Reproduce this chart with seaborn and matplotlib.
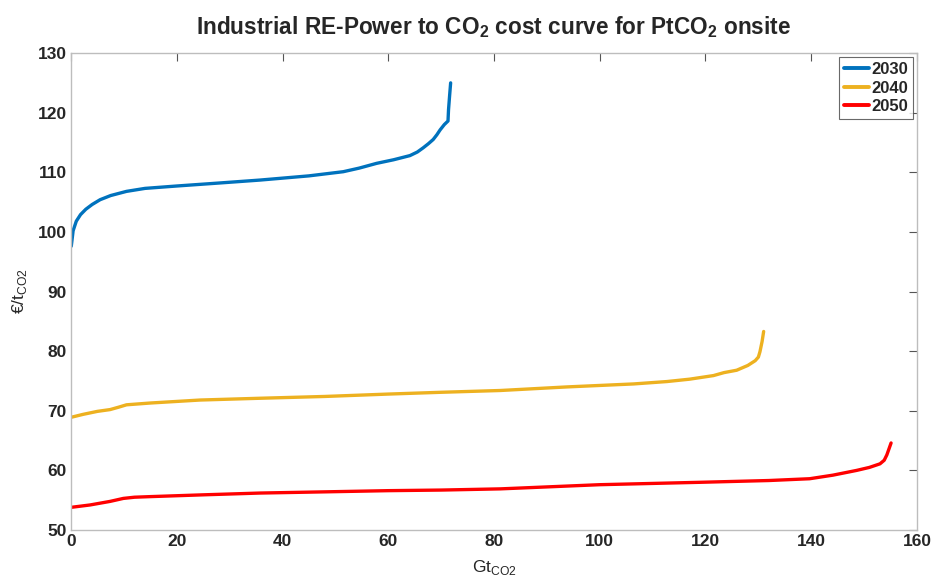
import pandas as pd
import matplotlib
matplotlib.use('Agg')
import matplotlib.pyplot as plt
import seaborn as sns

# Cost curve points (Gt CO2 vs EUR/t CO2)
x_2030 = [0.05, 0.4, 1.0, 1.8, 2.8, 4.0, 5.5, 7.5, 10.5, 14.0, 20.0, 28.0, 35.8, 45.0, 51.5,
          54.5, 57.8, 61.0, 64.1, 65.5, 66.6, 67.6, 68.5, 69.2, 69.8, 70.6, 71.3, 71.4, 71.6, 71.8]
y_2030 = [97.6, 100.2, 101.8, 102.9, 103.8, 104.6, 105.4, 106.1, 106.8, 107.3, 107.7, 108.2, 108.7, 109.4, 110.1,
          110.7, 111.5, 112.1, 112.8, 113.4, 114.1, 114.8, 115.5, 116.3, 117.1, 118.0, 118.6, 120.5, 122.8, 125.0]

x_2040 = [0.0, 2.3, 5.0, 7.4, 9.0, 10.5, 15.0, 24.4, 35.8, 48.0, 60.0, 70.0, 81.2, 93.8, 106.4,
          112.7, 117.0, 121.5, 123.5, 125.9, 128.0, 129.4, 130.0, 130.3, 130.7, 131.0]
y_2040 = [68.9, 69.4, 69.9, 70.2, 70.6, 71.0, 71.3, 71.8, 72.1, 72.4, 72.8, 73.1, 73.4, 74.0, 74.5,
          74.9, 75.3, 75.9, 76.4, 76.8, 77.6, 78.4, 79.0, 79.9, 81.6, 83.3]

x_2050 = [0.0, 3.6, 5.5, 7.4, 9.9, 12.0, 15.0, 25.0, 35.8, 48.0, 60.0, 70.0, 81.2, 100.0, 118.9,
          132.0, 139.7, 144.1, 148.6, 151.0, 153.0, 153.8, 154.3, 154.7, 155.1]
y_2050 = [53.8, 54.2, 54.5, 54.8, 55.3, 55.5, 55.6, 55.9, 56.2, 56.4, 56.6, 56.7, 56.9, 57.6, 58.0,
          58.3, 58.6, 59.2, 60.0, 60.5, 61.1, 61.7, 62.6, 63.6, 64.6]

years = ['2030', '2040', '2050']
colors = ['#0072BD', '#EDB120', '#FF0000']

frames = []
for yr, xs, ys in zip(years, [x_2030, x_2040, x_2050], [y_2030, y_2040, y_2050]):
    frames.append(pd.DataFrame({'Gt': xs, 'cost': ys, 'year': yr}))
df = pd.concat(frames, ignore_index=True)

sns.set_style('white')
plt.rcParams['font.family'] = ['Liberation Sans', 'DejaVu Sans']
plt.rcParams['mathtext.fontset'] = 'custom'
plt.rcParams['mathtext.rm'] = 'Liberation Sans'
plt.rcParams['mathtext.bf'] = 'Liberation Sans:bold'

fig, ax = plt.subplots(figsize=(9.38, 5.83), dpi=100)
fig.subplots_adjust(left=0.0757, right=0.9776, top=0.909, bottom=0.0909)

sns.lineplot(data=df, x='Gt', y='cost', hue='year', palette=colors,
             linewidth=2.4, sort=False, estimator=None, ax=ax)

ax.set_xlim(0, 160)
ax.set_ylim(50, 130)
ax.set_xticks(range(0, 161, 20))
ax.set_yticks(range(50, 131, 10))
ax.tick_params(direction='in', top=True, right=True, length=6, width=0.8,
               color='#555555', labelsize=12.5, pad=3)
for lab in ax.get_xticklabels() + ax.get_yticklabels():
    lab.set_fontweight('bold')
for sp in ax.spines.values():
    sp.set_color('#bdbdbd')
    sp.set_linewidth(1.0)

ax.set_title(r'Industrial RE-Power to CO$_\mathbf{2}$ cost curve for PtCO$_\mathbf{2}$ onsite',
             fontsize=16.3, fontweight='bold', pad=14)
ax.set_xlabel(r'Gt$_{\mathrm{CO2}}$', fontsize=12.5, labelpad=6)
ax.set_ylabel(r'€/t$_{\mathrm{CO2}}$', fontsize=12.5, labelpad=6)

leg = ax.legend(loc='upper right', fontsize=12, handlelength=1.5, handletextpad=0.15,
                borderpad=0.3, labelspacing=0.2, fancybox=False, borderaxespad=0.25)
leg.get_frame().set_edgecolor('#444444')
leg.get_frame().set_linewidth(0.8)
for t in leg.get_texts():
    t.set_fontweight('bold')
for line in leg.get_lines():
    line.set_linewidth(2.8)

fig.savefig('out.png', dpi=100)
